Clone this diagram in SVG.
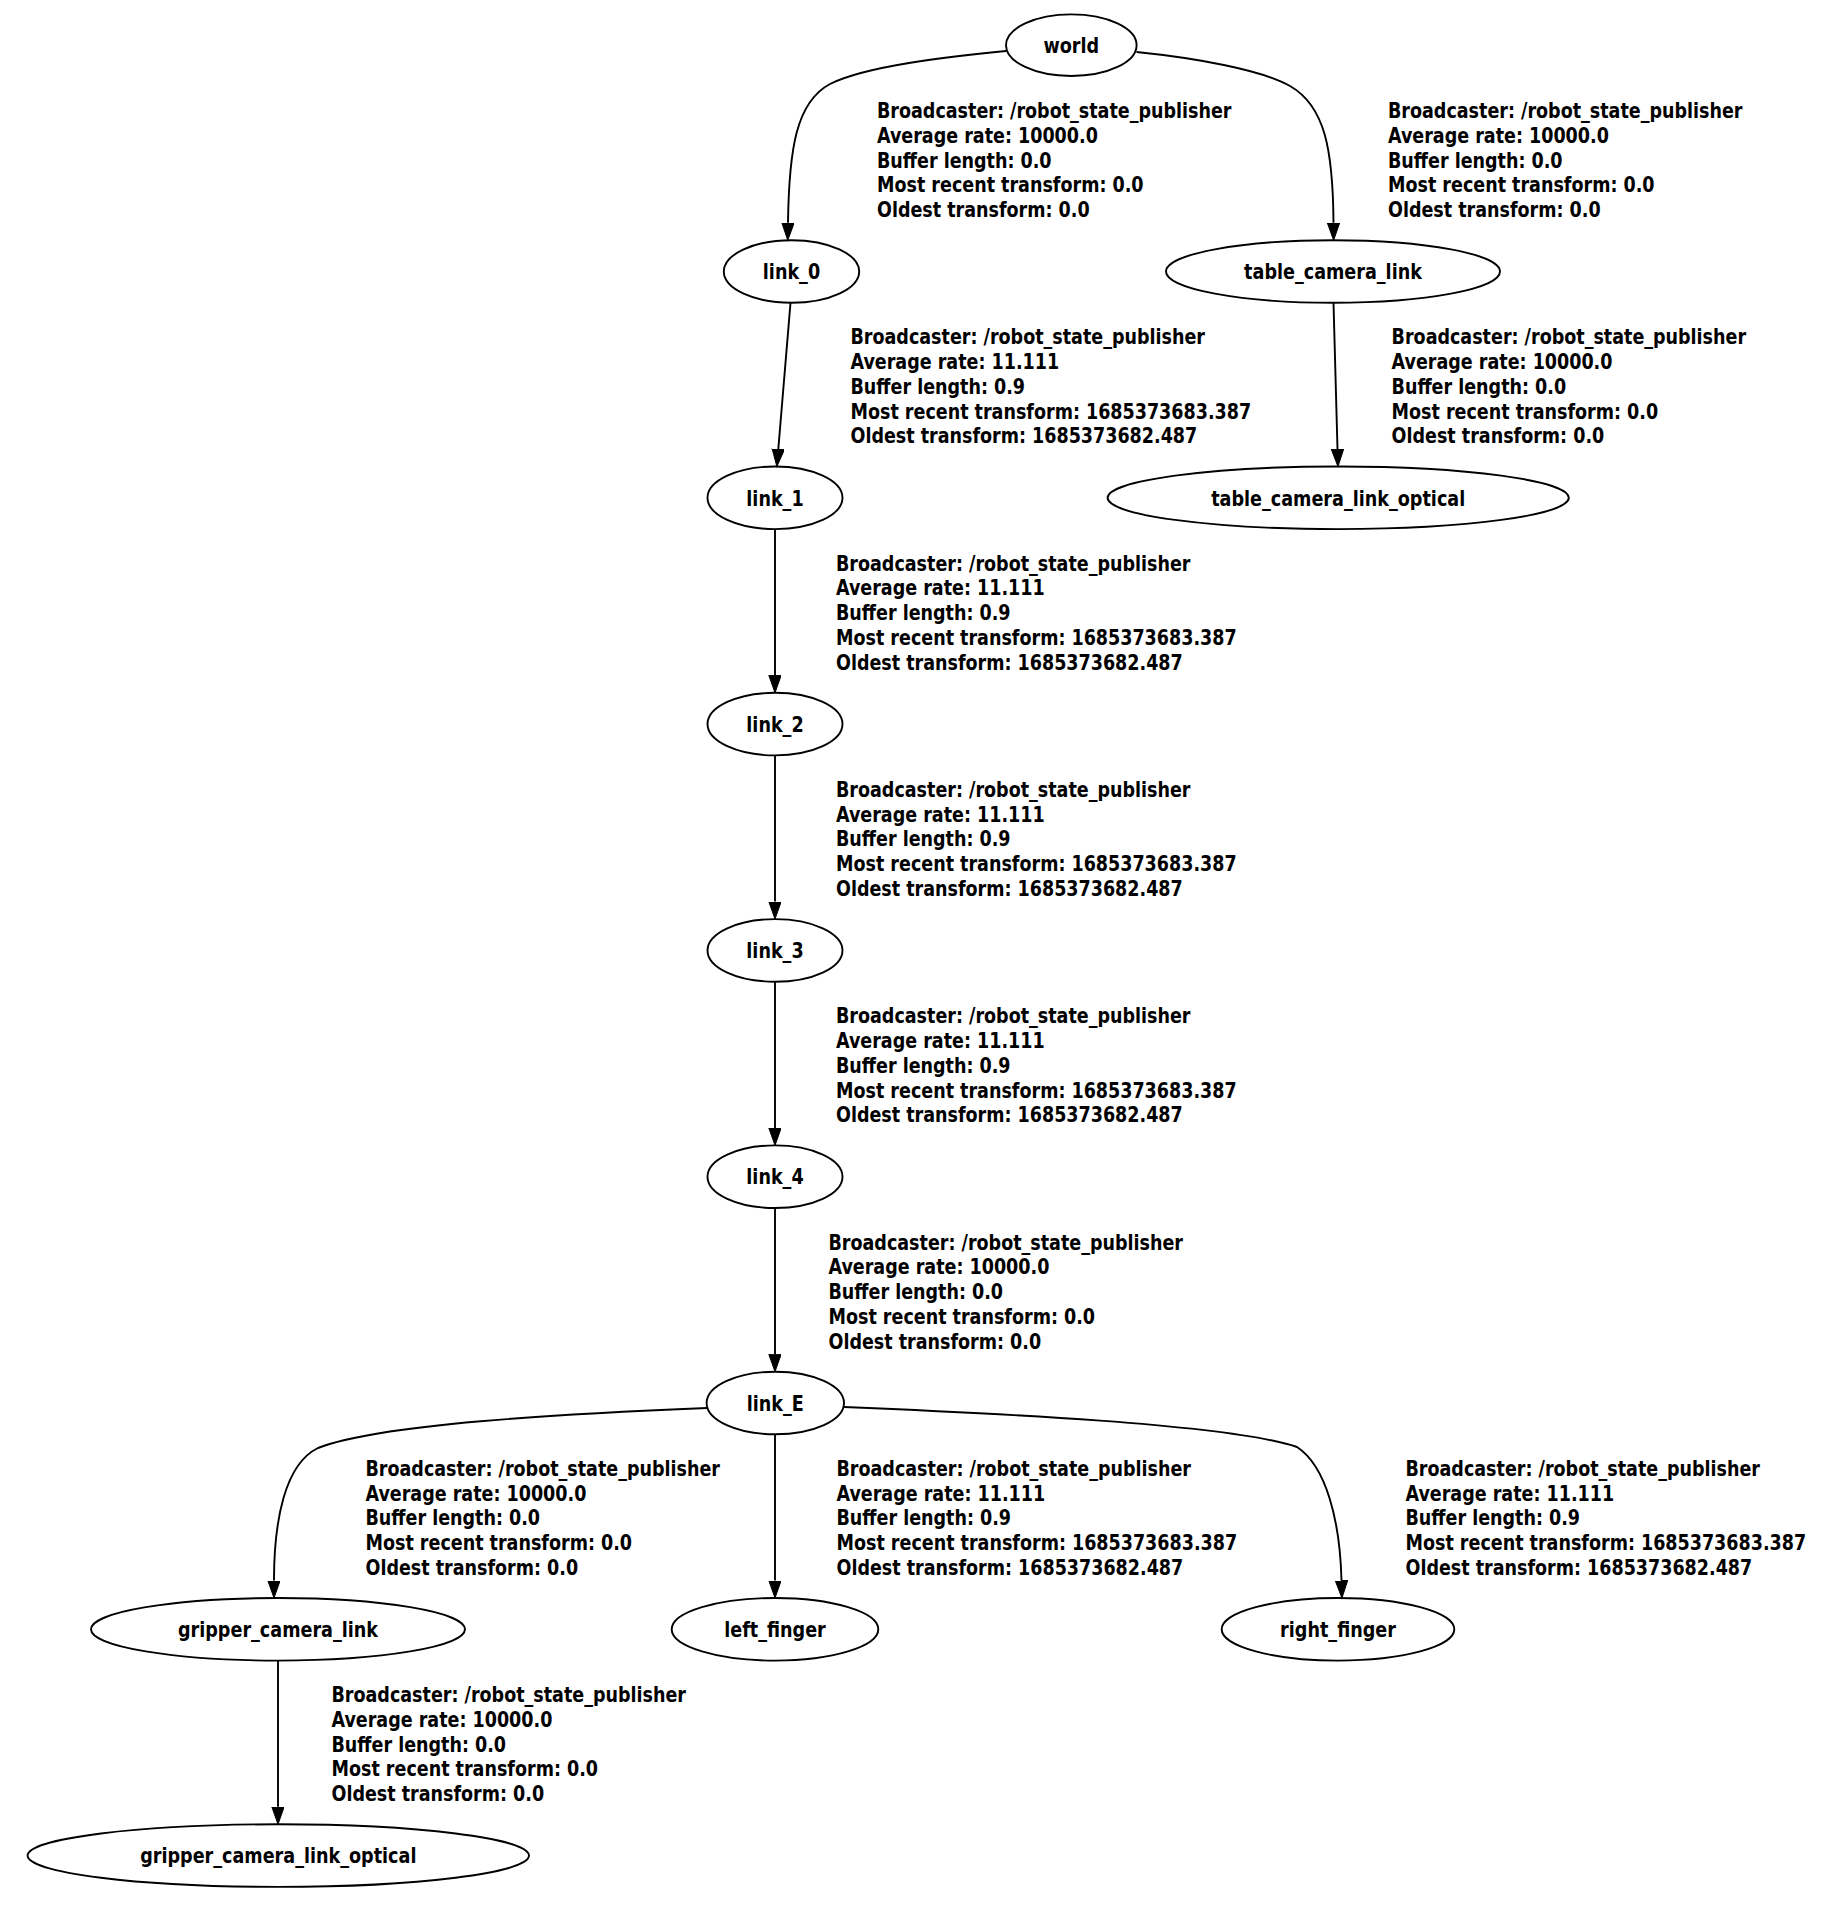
<svg xmlns="http://www.w3.org/2000/svg" width="1832" height="1908" viewBox="0 0 1832 1908">
  <style>
    .node ellipse { fill: none; stroke: #000; stroke-width: 1.9; }
    .node text { font-family: "DejaVu Sans", "Liberation Sans", sans-serif; font-weight: bold; font-size: 22px; text-anchor: middle; fill: #000; }
    .edge path { fill: none; stroke: #000; stroke-width: 1.9; }
    .edge text { font-family: "DejaVu Sans", "Liberation Sans", sans-serif; font-weight: bold; font-size: 22px; fill: #000; }
  </style>
  <defs>
    <marker id="arrow" markerUnits="userSpaceOnUse" markerWidth="20" markerHeight="14" refX="0" refY="6.2" orient="auto">
      <path d="M0,0 L17.5,6.2 L0,12.4 z" fill="#000" stroke="#000" stroke-width="1"/>
    </marker>
  </defs>
  <rect width="1832" height="1908" fill="#fff"/>

  <!-- transform frames -->
  <g id="world" class="node">
    <ellipse cx="1071.3" cy="45.2" rx="65.3" ry="30.8"/>
    <text transform="translate(1071.3,52.9) scale(0.8,1)">world</text>
  </g>
  <g id="link_0" class="node">
    <ellipse cx="791.5" cy="271.5" rx="67.7" ry="31.3"/>
    <text transform="translate(791.5,279.2) scale(0.8,1)">link_0</text>
  </g>
  <g id="table_camera_link" class="node">
    <ellipse cx="1333" cy="271.5" rx="167" ry="31.3"/>
    <text transform="translate(1333,279.2) scale(0.8,1)">table_camera_link</text>
  </g>
  <g id="link_1" class="node">
    <ellipse cx="775" cy="497.8" rx="67.5" ry="31.3"/>
    <text transform="translate(775,505.5) scale(0.8,1)">link_1</text>
  </g>
  <g id="table_camera_link_optical" class="node">
    <ellipse cx="1338.2" cy="497.8" rx="230.6" ry="31.3"/>
    <text transform="translate(1338.2,505.5) scale(0.8,1)">table_camera_link_optical</text>
  </g>
  <g id="link_2" class="node">
    <ellipse cx="775" cy="724.1" rx="67.5" ry="31.3"/>
    <text transform="translate(775,731.8) scale(0.8,1)">link_2</text>
  </g>
  <g id="link_3" class="node">
    <ellipse cx="775" cy="950.4" rx="67.5" ry="31.3"/>
    <text transform="translate(775,958.1) scale(0.8,1)">link_3</text>
  </g>
  <g id="link_4" class="node">
    <ellipse cx="775" cy="1176.7" rx="67.5" ry="31.3"/>
    <text transform="translate(775,1184.4) scale(0.8,1)">link_4</text>
  </g>
  <g id="link_E" class="node">
    <ellipse cx="775.3" cy="1403" rx="68.7" ry="31.3"/>
    <text transform="translate(775.3,1410.7) scale(0.8,1)">link_E</text>
  </g>
  <g id="gripper_camera_link" class="node">
    <ellipse cx="278" cy="1629.3" rx="187" ry="31.3"/>
    <text transform="translate(278,1637) scale(0.8,1)">gripper_camera_link</text>
  </g>
  <g id="left_finger" class="node">
    <ellipse cx="775" cy="1629.3" rx="103.3" ry="31.3"/>
    <text transform="translate(775,1637) scale(0.8,1)">left_finger</text>
  </g>
  <g id="right_finger" class="node">
    <ellipse cx="1338" cy="1629.3" rx="116.3" ry="31.3"/>
    <text transform="translate(1338,1637) scale(0.8,1)">right_finger</text>
  </g>
  <g id="gripper_camera_link_optical" class="node">
    <ellipse cx="278.3" cy="1855.6" rx="250.7" ry="31.3"/>
    <text transform="translate(278.3,1863.3) scale(0.8,1)">gripper_camera_link_optical</text>
  </g>

  <!-- parent -> child transforms, each with its broadcaster statistics -->
  <g id="connectors">
    <g id="world-link_0" class="edge">
      <path d="M1006,51 C946,57 866,66 830,84 C796,102 789,150 788,222.7" marker-end="url(#arrow)"/>
      <text transform="translate(877,118) scale(0.797,1)"><tspan x="0">Broadcaster: /robot_state_publisher</tspan><tspan x="0" dy="24.8">Average rate: 10000.0</tspan><tspan x="0" dy="24.8">Buffer length: 0.0</tspan><tspan x="0" dy="24.8">Most recent transform: 0.0</tspan><tspan x="0" dy="24.8">Oldest transform: 0.0</tspan></text>
    </g>
    <g id="world-table_camera_link" class="edge">
      <path d="M1136.5,52 C1196,58 1262,70 1290,86 C1325,106 1333,150 1333.5,222.7" marker-end="url(#arrow)"/>
      <text transform="translate(1388,118) scale(0.797,1)"><tspan x="0">Broadcaster: /robot_state_publisher</tspan><tspan x="0" dy="24.8">Average rate: 10000.0</tspan><tspan x="0" dy="24.8">Buffer length: 0.0</tspan><tspan x="0" dy="24.8">Most recent transform: 0.0</tspan><tspan x="0" dy="24.8">Oldest transform: 0.0</tspan></text>
    </g>
    <g id="link_0-link_1" class="edge">
      <path d="M790.5,302.8 L778.3,449" marker-end="url(#arrow)"/>
      <text transform="translate(850.5,344.3) scale(0.797,1)"><tspan x="0">Broadcaster: /robot_state_publisher</tspan><tspan x="0" dy="24.8">Average rate: 11.111</tspan><tspan x="0" dy="24.8">Buffer length: 0.9</tspan><tspan x="0" dy="24.8">Most recent transform: 1685373683.387</tspan><tspan x="0" dy="24.8">Oldest transform: 1685373682.487</tspan></text>
    </g>
    <g id="table_camera_link-table_camera_link_optical" class="edge">
      <path d="M1333.5,302.8 L1337.5,449" marker-end="url(#arrow)"/>
      <text transform="translate(1391.6,344.3) scale(0.797,1)"><tspan x="0">Broadcaster: /robot_state_publisher</tspan><tspan x="0" dy="24.8">Average rate: 10000.0</tspan><tspan x="0" dy="24.8">Buffer length: 0.0</tspan><tspan x="0" dy="24.8">Most recent transform: 0.0</tspan><tspan x="0" dy="24.8">Oldest transform: 0.0</tspan></text>
    </g>
    <g id="link_1-link_2" class="edge">
      <path d="M775,529.1 L775,675.3" marker-end="url(#arrow)"/>
      <text transform="translate(836,570.6) scale(0.797,1)"><tspan x="0">Broadcaster: /robot_state_publisher</tspan><tspan x="0" dy="24.8">Average rate: 11.111</tspan><tspan x="0" dy="24.8">Buffer length: 0.9</tspan><tspan x="0" dy="24.8">Most recent transform: 1685373683.387</tspan><tspan x="0" dy="24.8">Oldest transform: 1685373682.487</tspan></text>
    </g>
    <g id="link_2-link_3" class="edge">
      <path d="M775,755.4 L775,901.6" marker-end="url(#arrow)"/>
      <text transform="translate(836,796.9) scale(0.797,1)"><tspan x="0">Broadcaster: /robot_state_publisher</tspan><tspan x="0" dy="24.8">Average rate: 11.111</tspan><tspan x="0" dy="24.8">Buffer length: 0.9</tspan><tspan x="0" dy="24.8">Most recent transform: 1685373683.387</tspan><tspan x="0" dy="24.8">Oldest transform: 1685373682.487</tspan></text>
    </g>
    <g id="link_3-link_4" class="edge">
      <path d="M775,981.7 L775,1127.9" marker-end="url(#arrow)"/>
      <text transform="translate(836,1023.2) scale(0.797,1)"><tspan x="0">Broadcaster: /robot_state_publisher</tspan><tspan x="0" dy="24.8">Average rate: 11.111</tspan><tspan x="0" dy="24.8">Buffer length: 0.9</tspan><tspan x="0" dy="24.8">Most recent transform: 1685373683.387</tspan><tspan x="0" dy="24.8">Oldest transform: 1685373682.487</tspan></text>
    </g>
    <g id="link_4-link_E" class="edge">
      <path d="M775,1208 L775,1354.2" marker-end="url(#arrow)"/>
      <text transform="translate(828.5,1249.5) scale(0.797,1)"><tspan x="0">Broadcaster: /robot_state_publisher</tspan><tspan x="0" dy="24.8">Average rate: 10000.0</tspan><tspan x="0" dy="24.8">Buffer length: 0.0</tspan><tspan x="0" dy="24.8">Most recent transform: 0.0</tspan><tspan x="0" dy="24.8">Oldest transform: 0.0</tspan></text>
    </g>
    <g id="link_E-gripper_camera_link" class="edge">
      <path d="M707,1408 C560,1414 380,1424 318,1448 C285,1464 274,1520 274,1580.5" marker-end="url(#arrow)"/>
      <text transform="translate(365.5,1475.8) scale(0.797,1)"><tspan x="0">Broadcaster: /robot_state_publisher</tspan><tspan x="0" dy="24.8">Average rate: 10000.0</tspan><tspan x="0" dy="24.8">Buffer length: 0.0</tspan><tspan x="0" dy="24.8">Most recent transform: 0.0</tspan><tspan x="0" dy="24.8">Oldest transform: 0.0</tspan></text>
    </g>
    <g id="link_E-left_finger" class="edge">
      <path d="M775,1434.3 L775,1580.5" marker-end="url(#arrow)"/>
      <text transform="translate(836.5,1475.8) scale(0.797,1)"><tspan x="0">Broadcaster: /robot_state_publisher</tspan><tspan x="0" dy="24.8">Average rate: 11.111</tspan><tspan x="0" dy="24.8">Buffer length: 0.9</tspan><tspan x="0" dy="24.8">Most recent transform: 1685373683.387</tspan><tspan x="0" dy="24.8">Oldest transform: 1685373682.487</tspan></text>
    </g>
    <g id="link_E-right_finger" class="edge">
      <path d="M844,1407 C990,1413 1230,1424 1297,1447 C1326,1466 1340,1520 1341.5,1580.5" marker-end="url(#arrow)"/>
      <text transform="translate(1405.5,1475.8) scale(0.797,1)"><tspan x="0">Broadcaster: /robot_state_publisher</tspan><tspan x="0" dy="24.8">Average rate: 11.111</tspan><tspan x="0" dy="24.8">Buffer length: 0.9</tspan><tspan x="0" dy="24.8">Most recent transform: 1685373683.387</tspan><tspan x="0" dy="24.8">Oldest transform: 1685373682.487</tspan></text>
    </g>
    <g id="gripper_camera_link-gripper_camera_link_optical" class="edge">
      <path d="M278,1660.6 L278,1806.8" marker-end="url(#arrow)"/>
      <text transform="translate(331.5,1702.1) scale(0.797,1)"><tspan x="0">Broadcaster: /robot_state_publisher</tspan><tspan x="0" dy="24.8">Average rate: 10000.0</tspan><tspan x="0" dy="24.8">Buffer length: 0.0</tspan><tspan x="0" dy="24.8">Most recent transform: 0.0</tspan><tspan x="0" dy="24.8">Oldest transform: 0.0</tspan></text>
    </g>
  </g>
</svg>
